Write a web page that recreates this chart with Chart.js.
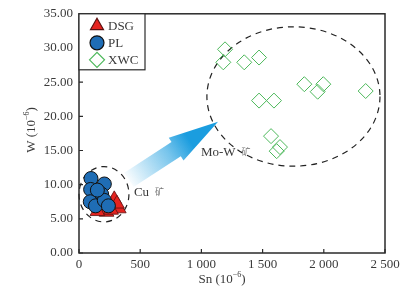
<!DOCTYPE html>
<html>
<head>
<meta charset="utf-8">
<script src="https://cdn.jsdelivr.net/npm/chart.js@4/dist/chart.umd.min.js"></script>
<style>
  html, body { margin: 0; padding: 0; background: #fff; }
  #wrap { width: 408px; height: 288px; }
</style>
</head>
<body>
<div id="wrap"><canvas id="snW"></canvas></div>
<script>
// --- datos ---
const seriesNames = ['DSG', 'PL', 'XWC'];

const dsgSn = [288, 325, 310, 225, 150, 262];
const dsgW  = [7.85, 6.5, 7.2, 6.0, 6.1, 6.3];

const plSn = [98, 207, 95, 185, 92, 135, 207, 240, 150];
const plW  = [10.9, 10.1, 9.3, 8.6, 7.5, 6.9, 7.7, 6.9, 9.2];

const xwcSn = [1193, 1179, 1350, 1471, 1841, 1996, 1950, 2342, 1471, 1593, 1569, 1642, 1615];
const xwcW  = [29.8, 27.9, 27.9, 28.6, 24.7, 24.7, 23.6, 23.7, 22.3, 22.3, 17.1, 15.5, 14.9];

const xTicks = [0, 500, 1000, 1500, 2000, 2500];
const yTicks = [0, 5, 10, 15, 20, 25, 30, 35];

// zonas (en unidades de datos)
const cuZone  = { x: 204, y: 8.6, rx: 204, ry: 4.05, label: 'Cu', ore: '矿' };
const moWZone = { x: 1752, y: 22.9, rx: 707, ry: 10.2, label: 'Mo-W', ore: '矿' };
const arrowFrom = { x: 408, y: 10.7 };
const arrowTo   = { x: 1136, y: 19.2 };

const toPoints = (xs, ys) => xs.map((x, i) => ({ x: x, y: ys[i] }));

const serif = '"Liberation Serif", "Times New Roman", serif';
const axisColor = '#2a2a2a';
const textColor = '#3a3a3a';

const styles = [
    { pointStyle: 'triangle', radius: 8.5, bg: '#e5231f', border: '#5a1010', bw: 0.8 },
    { pointStyle: 'circle', radius: 7, bg: '#1f6db5', border: '#111', bw: 1 },
    { pointStyle: 'rectRot', radius: 7.5, bg: 'rgba(0,0,0,0)', border: '#4cb85a', bw: 1 }
];

function drawMarker(ctx, st, x, y) {
    Chart.helpers.drawPoint(ctx, {
        pointStyle: st.pointStyle, radius: st.radius, rotation: 0, borderWidth: st.bw
    }, x, y);
}

// --- dibujo de zonas, flecha, marco y leyenda ---
const decorPlugin = {
    id: 'decor',
    beforeDatasetsDraw(chart) {
        const { ctx, scales: { x, y } } = chart;
        ctx.save();

        // flecha con degradado
        const x0 = x.getPixelForValue(arrowFrom.x), y0 = y.getPixelForValue(arrowFrom.y);
        const x1 = x.getPixelForValue(arrowTo.x), y1 = y.getPixelForValue(arrowTo.y);
        const len = Math.hypot(x1 - x0, y1 - y0);
        const ang = Math.atan2(y1 - y0, x1 - x0);
        const shaftW = 17, headW = 27, headL = 50;
        ctx.translate(x0, y0);
        ctx.rotate(ang);
        const g = ctx.createLinearGradient(0, 0, len, 0);
        g.addColorStop(0, 'rgba(27,157,223,0.03)');
        g.addColorStop(0.45, 'rgba(27,157,223,0.6)');
        g.addColorStop(0.68, 'rgba(27,157,223,1)');
        g.addColorStop(1, 'rgba(27,157,223,1)');
        ctx.fillStyle = g;
        ctx.beginPath();
        ctx.moveTo(0, -shaftW / 2);
        ctx.lineTo(len - headL, -shaftW / 2);
        ctx.lineTo(len - headL, -headW / 2);
        ctx.lineTo(len, 0);
        ctx.lineTo(len - headL, headW / 2);
        ctx.lineTo(len - headL, shaftW / 2);
        ctx.lineTo(0, shaftW / 2);
        ctx.closePath();
        ctx.fill();
        ctx.setTransform(1, 0, 0, 1, 0, 0);

        // elipses punteadas
        ctx.strokeStyle = '#222';
        ctx.lineWidth = 1.2;
        ctx.setLineDash([6, 5]);
        [cuZone, moWZone].forEach(z => {
            const cx = x.getPixelForValue(z.x), cy = y.getPixelForValue(z.y);
            const rx = x.getPixelForValue(z.x + z.rx) - cx;
            const ry = cy - y.getPixelForValue(z.y + z.ry);
            ctx.beginPath();
            ctx.ellipse(cx, cy, rx, ry, 0, 0, Math.PI * 2);
            ctx.stroke();
        });
        ctx.setLineDash([]);

        // etiquetas de zonas
        ctx.textBaseline = 'middle';
        ctx.textAlign = 'left';
        const zl = (z, px, py) => {
            ctx.font = '13px ' + serif;
            ctx.fillStyle = textColor;
            ctx.fillText(z.label, px, py);
            const w = ctx.measureText(z.label).width;
            ctx.font = '9px "Noto Sans CJK SC", sans-serif';
            ctx.fillStyle = '#777';
            ctx.fillText(z.ore, px + w + 6, py - 1);
        };
        zl(cuZone, x.getPixelForValue(cuZone.x + cuZone.rx) + 5, y.getPixelForValue(cuZone.y + 0.2));
        zl(moWZone, x.getPixelForValue(moWZone.x - moWZone.rx) - 6, y.getPixelForValue(moWZone.y - 8.2));
        ctx.restore();
    },
    afterDraw(chart) {
        const { ctx, chartArea: a, scales: { x, y } } = chart;
        ctx.save();
        // marco
        ctx.strokeStyle = axisColor;
        ctx.lineWidth = 1.5;
        ctx.strokeRect(a.left, a.top, a.right - a.left, a.bottom - a.top);
        // marcas hacia dentro
        ctx.lineWidth = 1.2;
        ctx.beginPath();
        xTicks.forEach(v => {
            const px = x.getPixelForValue(v);
            ctx.moveTo(px, a.bottom);
            ctx.lineTo(px, a.bottom - 4);
        });
        yTicks.forEach(v => {
            const py = y.getPixelForValue(v);
            ctx.moveTo(a.left, py);
            ctx.lineTo(a.left + 4, py);
        });
        ctx.stroke();

        // leyenda
        const lx = a.left, ly = a.top, lw = 66, lh = 56;
        ctx.fillStyle = '#fff';
        ctx.fillRect(lx, ly, lw, lh);
        ctx.lineWidth = 1.2;
        ctx.strokeRect(lx, ly, lw, lh);
        ctx.font = '13px ' + serif;
        ctx.textBaseline = 'middle';
        ctx.textAlign = 'left';
        seriesNames.forEach((name, i) => {
            const st = Object.assign({}, styles[i], { radius: Math.min(styles[i].radius, 7.5) });
            const my = ly + 12 + i * 17;
            ctx.fillStyle = st.bg;
            ctx.strokeStyle = st.border;
            drawMarker(ctx, st, lx + 18, my);
            ctx.fillStyle = textColor;
            ctx.fillText(name, lx + 29, my + 1);
        });

        // títulos de ejes con superíndice
        const titled = (base, px, py) => {
            ctx.font = '13px ' + serif;
            const w1 = ctx.measureText(base).width;
            ctx.font = '8px ' + serif;
            const w2 = ctx.measureText('−6').width;
            ctx.font = '13px ' + serif;
            const w3 = ctx.measureText(')').width;
            const start = px - (w1 + w2 + w3) / 2;
            ctx.fillStyle = textColor;
            ctx.fillText(base, start, py);
            ctx.font = '8px ' + serif;
            ctx.fillText('−6', start + w1, py - 5);
            ctx.font = '13px ' + serif;
            ctx.fillText(')', start + w1 + w2, py);
        };
        ctx.textAlign = 'left';
        titled('Sn (10', 222, 280);
        ctx.translate(32, 130);
        ctx.rotate(-Math.PI / 2);
        titled('W (10', 0, 0);
        ctx.restore();
    }
};

const datasets = [
    { label: seriesNames[0], data: toPoints(dsgSn, dsgW), order: 2 },
    { label: seriesNames[1], data: toPoints(plSn, plW), order: 1 },
    { label: seriesNames[2], data: toPoints(xwcSn, xwcW), order: 0 }
].map((d, i) => Object.assign(d, {
    pointStyle: styles[i].pointStyle,
    pointRadius: styles[i].radius,
    pointHoverRadius: styles[i].radius,
    backgroundColor: styles[i].bg,
    borderColor: styles[i].border,
    borderWidth: styles[i].bw,
    showLine: false
}));

new Chart(document.getElementById('snW'), {
    type: 'scatter',
    data: { datasets: datasets },
    options: {
        responsive: true,
        maintainAspectRatio: false,
        animation: false,
        events: [],
        layout: { padding: { top: 11, right: 23, left: 0, bottom: 0 } },
        scales: {
            x: {
                type: 'linear', min: 0, max: 2500,
                afterBuildTicks: s => { s.ticks = xTicks.map(v => ({ value: v })); },
                afterFit: s => { s.height = 35; },
                grid: { display: false, drawTicks: false },
                border: { display: false },
                ticks: {
                    padding: 4,
                    color: textColor,
                    font: { family: serif, size: 13 },
                    maxRotation: 0,
                    callback: v => v >= 1000 ? Math.floor(v / 1000) + ' ' + String(v % 1000).padStart(3, '0') : String(v)
                }
            },
            y: {
                type: 'linear', min: 0, max: 35,
                afterBuildTicks: s => { s.ticks = yTicks.map(v => ({ value: v })); },
                afterFit: s => { s.width = 79; },
                grid: { display: false, drawTicks: false },
                border: { display: false },
                ticks: {
                    padding: 6,
                    color: textColor,
                    font: { family: serif, size: 13 },
                    callback: v => v.toFixed(2)
                }
            }
        },
        plugins: {
            legend: { display: false },
            title: { display: false },
            tooltip: { enabled: false }
        }
    },
    plugins: [decorPlugin]
});
</script>
</body>
</html>
